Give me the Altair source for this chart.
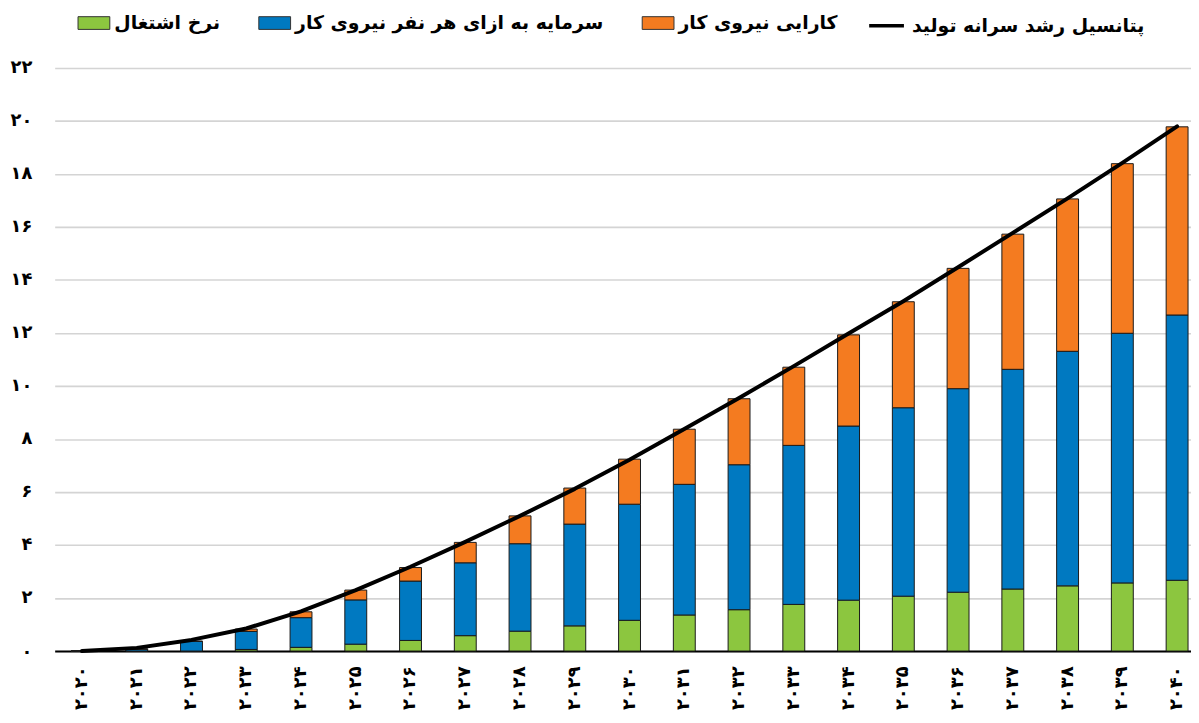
import altair as alt
import pandas as pd

# ---------------- data ----------------
years = ["۲۰۲۰", "۲۰۲۱", "۲۰۲۲", "۲۰۲۳", "۲۰۲۴", "۲۰۲۵", "۲۰۲۶", "۲۰۲۷",
         "۲۰۲۸", "۲۰۲۹", "۲۰۳۰", "۲۰۳۱", "۲۰۳۲", "۲۰۳۳", "۲۰۳۴", "۲۰۳۵",
         "۲۰۳۶", "۲۰۳۷", "۲۰۳۸", "۲۰۳۹", "۲۰۴۰"]

# نرخ اشتغال (employment rate) – bottom segment
employment = [0.0, 0.0, 0.0, 0.06, 0.14, 0.26, 0.40, 0.58, 0.75, 0.95, 1.16,
              1.36, 1.56, 1.76, 1.92, 2.07, 2.22, 2.34, 2.46, 2.57, 2.67]
# سرمایه به ازای هر نفر نیروی کار (capital per worker) – middle segment
capital = [0.0, 0.07, 0.36, 0.68, 1.12, 1.67, 2.24, 2.75, 3.30, 3.84, 4.38,
           4.93, 5.47, 6.00, 6.57, 7.11, 7.68, 8.29, 8.85, 9.42, 10.01]
# کارایی نیروی کار (labour efficiency) – top segment
efficiency = [0.0, 0.01, 0.02, 0.09, 0.22, 0.37, 0.51, 0.77, 1.05, 1.36, 1.70,
              2.08, 2.49, 2.95, 3.44, 4.00, 4.54, 5.10, 5.75, 6.40, 7.10]
# پتانسیل رشد سرانه تولید (line)
potential = [0.0, 0.12, 0.42, 0.85, 1.50, 2.30, 3.18, 4.12, 5.10, 6.12, 7.22,
             8.38, 9.55, 10.75, 11.98, 13.20, 14.48, 15.78, 17.08, 18.42, 19.80]

series_names = ["نرخ اشتغال", "سرمایه به ازای هر نفر نیروی کار", "کارایی نیروی کار"]
line_name = "پتانسیل رشد سرانه تولید"
series_colors = ["#8CC63F", "#0079C1", "#F47B20"]

y_tick_values = [0, 2, 4, 6, 8, 10, 12, 14, 16, 18, 20, 22]
y_tick_labels = ["۰", "۲", "۴", "۶", "۸", "۱۰", "۱۲", "۱۴", "۱۶", "۱۸", "۲۰", "۲۲"]

# ---------------- tables ----------------
rows = []
for i, yr in enumerate(years):
    for k, (name, vals) in enumerate(zip(series_names, [employment, capital, efficiency])):
        rows.append({"year": yr, "series": name, "value": vals[i], "ord": k})
bar_df = pd.DataFrame(rows)
line_df = pd.DataFrame({"year": years, "potential": potential, "name": line_name})

FONT = "DejaVu Sans"
label_expr = ("[" + ",".join("'%s'" % l for l in y_tick_labels) + "][indexof(["
              + ",".join(str(v) for v in y_tick_values) + "], datum.value)]")

x_enc = alt.X(
    "year:N", sort=years, title=None,
    scale=alt.Scale(paddingInner=0.6, paddingOuter=0.1764, align=0.847),
    axis=alt.Axis(labelAngle=270, labelFont=FONT, labelFontSize=18, labelFontWeight="bold",
                  labelColor="#000000", labelPadding=15, ticks=False, domain=True,
                  domainColor="#000000", domainWidth=2, grid=False, labelOverlap=False),
)

bars = alt.Chart(bar_df).mark_bar(stroke="#1a1a1a", strokeWidth=1).encode(
    x=x_enc,
    y=alt.Y(
        "value:Q", stack="zero", title=None,
        scale=alt.Scale(domain=[0, 22], nice=False, zero=True),
        axis=alt.Axis(values=y_tick_values, labelExpr=label_expr, labelFont=FONT,
                      labelFontSize=18, labelFontWeight="bold", labelColor="#000000",
                      labelPadding=23, ticks=False, domain=False, grid=True,
                      gridColor="#d4d4d4", gridWidth=1.6),
    ),
    color=alt.Color(
        "series:N", sort=series_names,
        scale=alt.Scale(domain=series_names, range=series_colors),
        legend=alt.Legend(orient="none", legendX=23, legendY=-62, direction="horizontal",
                          title=None, symbolType="M-1,-0.4H1V0.4H-1Z", symbolSize=1024,
                          symbolStrokeColor="#333333", symbolStrokeWidth=1,
                          symbolOpacity=1, labelFont=FONT, labelFontSize=19,
                          labelFontWeight="bold", labelColor="#000000", labelOffset=4,
                          columnPadding=36, padding=0, labelLimit=450),
    ),
    order=alt.Order("ord:Q"),
)

line = alt.Chart(line_df).mark_line(strokeWidth=4, strokeCap="round", strokeJoin="round").encode(
    x=alt.X("year:N", sort=years),
    y=alt.Y("potential:Q"),
    stroke=alt.Stroke(
        "name:N",
        scale=alt.Scale(domain=[line_name], range=["#000000"]),
        legend=alt.Legend(orient="none", legendX=818, legendY=-62, title=None,
                          symbolType="stroke", symbolSize=1225, symbolStrokeWidth=3.5,
                          labelFont=FONT, labelFontSize=19, labelFontWeight="bold",
                          labelColor="#000000", labelOffset=6, padding=0, labelLimit=450),
    ),
)

chart = alt.layer(bars, line).properties(
    width=1144,
    height=587,
    padding={"left": 47, "top": 58, "right": 0, "bottom": 62},
    autosize=alt.AutoSizeParams(type="none"),
    background="#ffffff",
).configure_view(stroke=None)

chart.save("out.html", embed_options={"renderer": "svg", "actions": False})
